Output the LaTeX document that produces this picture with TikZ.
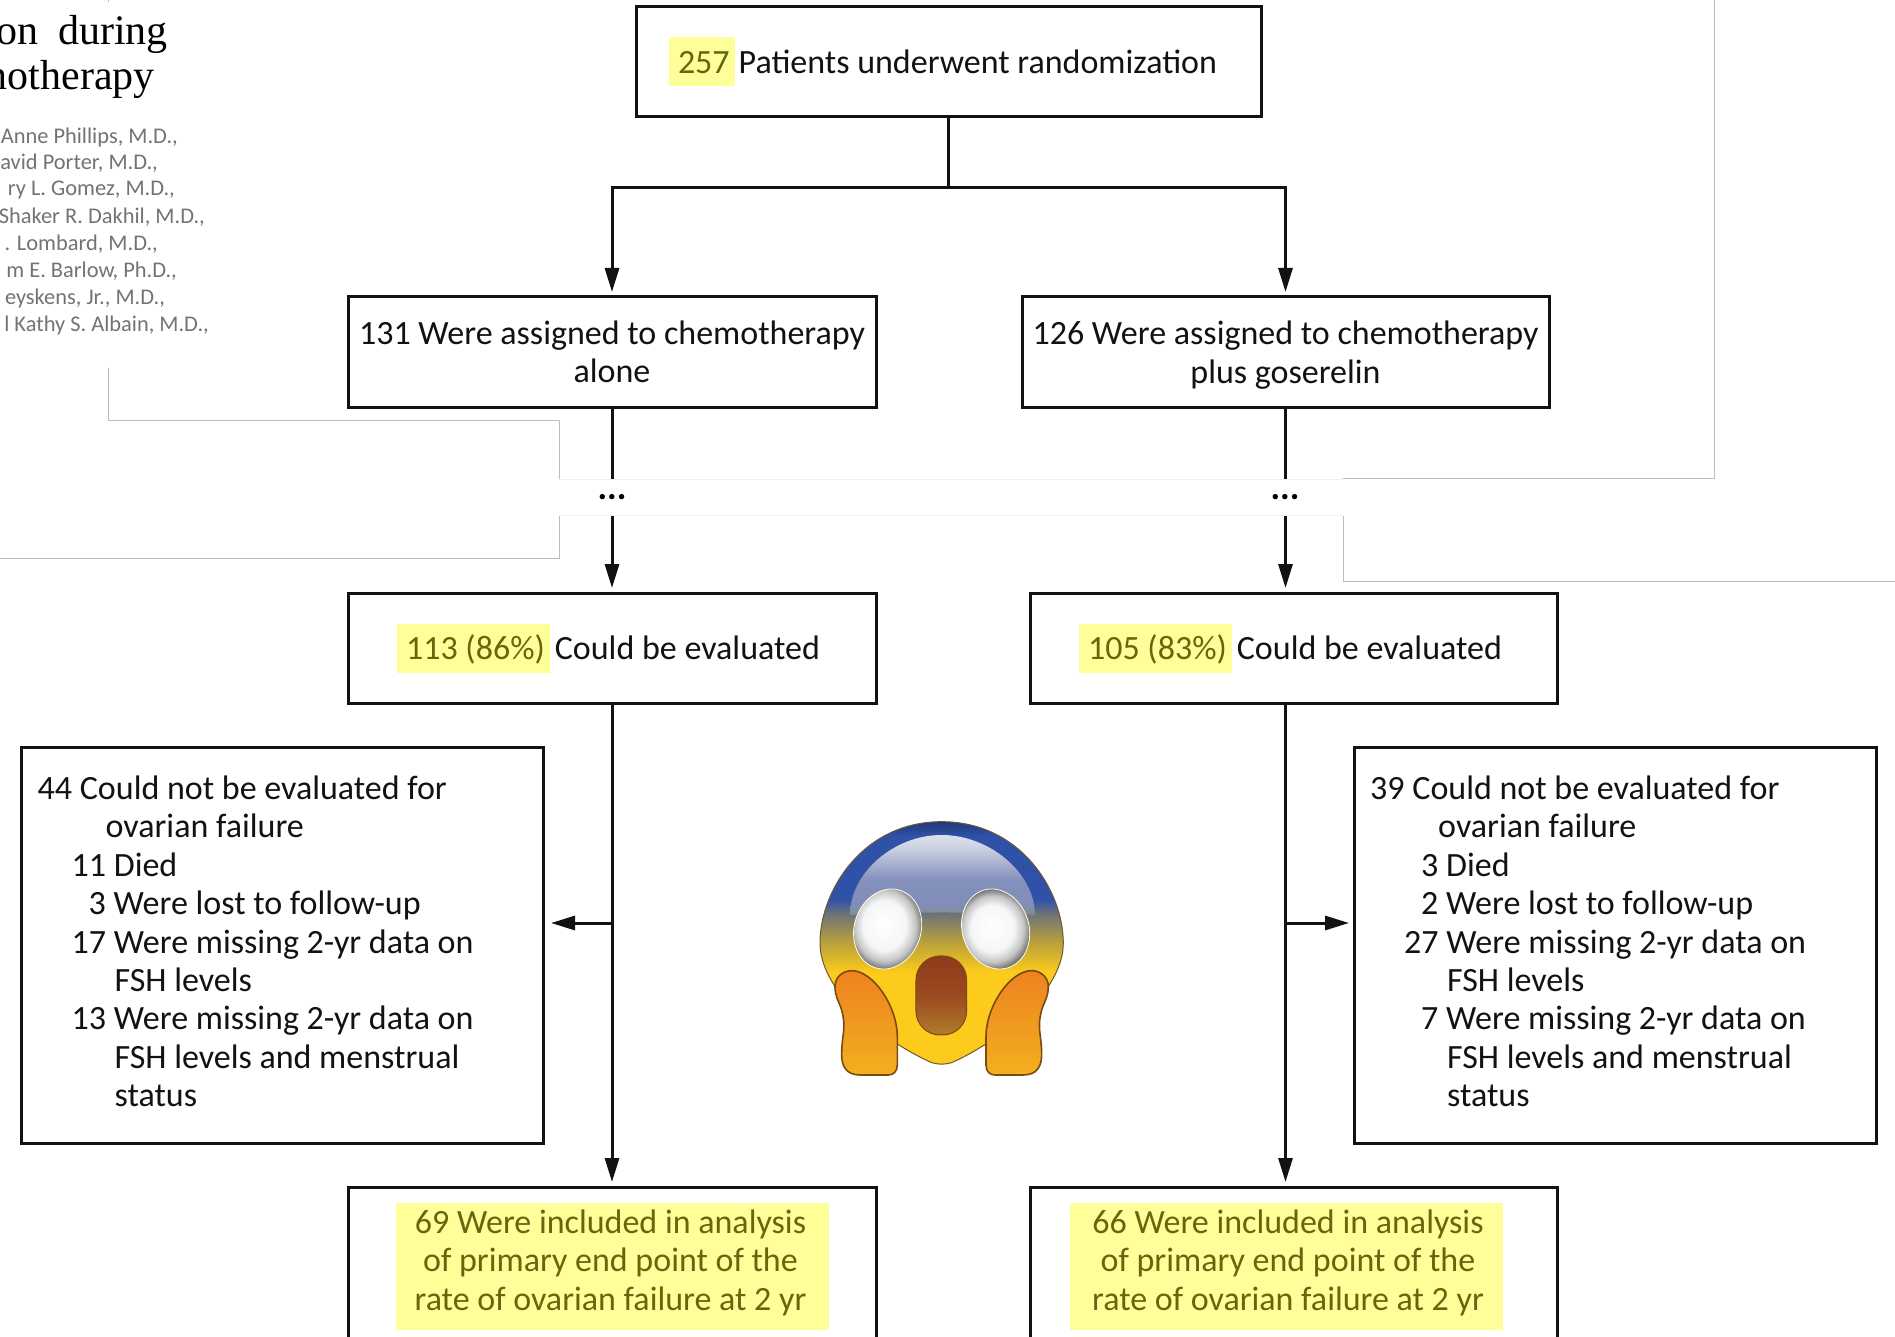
\documentclass[tikz,border=0pt]{standalone}
\usepackage{fontspec}
\usetikzlibrary{arrows.meta}
\setmainfont{Carlito}
\newfontfamily\titlefont{Liberation Serif}
\definecolor{hly}{HTML}{FFFF99}
\definecolor{hlt}{HTML}{66660F}
\definecolor{ink}{HTML}{121212}
\definecolor{pale}{HTML}{BDBDBD}
\definecolor{paler}{HTML}{EFEFEF}
\definecolor{hsA}{HTML}{FCCB1C}
\definecolor{hsB}{HTML}{B59E3E}
\definecolor{hsC}{HTML}{6E7379}
\definecolor{hsD}{HTML}{2F52A8}
\definecolor{hsE}{HTML}{1F3A7A}
\definecolor{glA}{HTML}{858C92}
\definecolor{glB}{HTML}{7F8EB8}
\definecolor{glC}{HTML}{8590BD}
\definecolor{glD}{HTML}{CFD4E4}
\definecolor{glE}{HTML}{DDE0EA}
\definecolor{eyA}{HTML}{F5F6F8}
\definecolor{eyB}{HTML}{C4C4C4}
\definecolor{eyC}{HTML}{666666}
\definecolor{handT}{HTML}{EE8220}
\definecolor{handB}{HTML}{F2B01E}
\definecolor{handL}{HTML}{7A4A10}
\definecolor{mouT}{HTML}{8F3A1C}
\definecolor{mouM}{HTML}{9A4A20}
\definecolor{mouB}{HTML}{B07C2C}
\definecolor{mouL}{HTML}{7A4A14}
\definecolor{headL}{HTML}{6B5A30}
\newcommand\hlbox[1]{{\setlength\fboxsep{0pt}\colorbox{hly}{\rule[-13pt]{0pt}{49pt}\hspace{9pt}\textcolor{hlt}{#1}\hspace{5pt}}}}
\newcommand\bodyfont{\fontsize{34pt}{38.4pt}\selectfont}
\pgfdeclareverticalshading{headsh}{100bp}{color(0bp)=(hsA);color(25bp)=(hsA);color(44bp)=(hsA);color(50.5bp)=(hsB);color(56bp)=(hsC);color(59bp)=(hsD);color(72bp)=(hsD);color(75bp)=(hsE);color(100bp)=(hsE)}
\pgfdeclareverticalshading{glosssh}{100bp}{color(0bp)=(glA);color(25bp)=(glA);color(32bp)=(glB);color(47bp)=(glC);color(68bp)=(glD);color(75bp)=(glE);color(100bp)=(glE)}
\pgfdeclareradialshading{eyesh}{\pgfpoint{-3bp}{3bp}}{color(0bp)=(white);color(14bp)=(eyA);color(20bp)=(eyB);color(25bp)=(eyC);color(50bp)=(eyC)}
\tikzset{
  x=1pt,y=-1pt,
  box/.style={draw=ink,line width=3pt,inner sep=0pt,outer sep=0pt,fill=white,align=center,text=ink,font=\bodyfont},
  conn/.style={draw=ink,line width=3pt},
  arr/.style={conn,-{Triangle[length=24pt,width=14pt]},shorten >=5pt},
  listtext/.style={inner sep=0pt,anchor=west,align=left,text=ink,font=\bodyfont},
  author/.style={inner sep=0pt,anchor=east,text=black!55,font=\fontsize{22.4pt}{26pt}\selectfont},
  titleline/.style={inner sep=0pt,anchor=east,text=black,font=\titlefont\fontsize{42pt}{46pt}\selectfont},
  bg/.style={draw=pale,line width=1pt},
  bgpale/.style={draw=paler,line width=1pt},
  markbox/.style={fill=hly,text=hlt,inner sep=0pt,align=center,minimum width=433pt,minimum height=127pt,font=\bodyfont},
  dotnode/.style={inner sep=0pt,minimum height=37pt,font=\bfseries\fontsize{36pt}{36pt}\selectfont,text=black},
}
\begin{document}
\begin{tikzpicture}
\useasboundingbox (0,0) rectangle (1895,1337);
\clip (0,0) rectangle (1895,1337);
\fill[white] (0,0) rectangle (1895,1337);
% page behind the figure
\draw[bg] (108,0) -- (108,2);
\draw[bg] (108,368) -- (108,420.5) -- (559,420.5) -- (559,479);
\draw[bgpale] (559,479) -- (1343,479);
\draw[bg] (1343,478.5) -- (1714,478.5) -- (1714,0);
\draw[bg] (0,558.5) -- (559,558.5) -- (559,516);
\draw[bgpale] (559,515.5) -- (1343,515.5);
\draw[bg] (1343,516) -- (1343,581.5) -- (1895,581.5);
% title fragment
\node[titleline] (t1) at (168,34) {on\hspace{9pt} during};
\node[titleline] (t2) at (155,79) {notherapy};
\node[author] (au1) at (178,137.5) {Anne Phillips, M.D.,};
\node[author] (au2) at (158,163.5) {avid Porter, M.D.,};
\node[author] (au3) at (175,190.5) {ry L. Gomez, M.D.,};
\node[author] (au4) at (205,217.5) {Shaker R. Dakhil, M.D.,};
\node[author] (au5) at (158,244.5) {. Lombard, M.D.,};
\node[author] (au6) at (177,271.5) {m E. Barlow, Ph.D.,};
\node[author] (au7) at (165,298.5) {eyskens, Jr., M.D.,};
\node[author] (au8) at (209,325.5) {l Kathy S. Albain, M.D.,};
% boxes
\node[box,minimum width=625pt,minimum height=110pt] (rand) at (948.5,62) {\hlbox{257}\hspace{4pt}Patients underwent randomization\hspace{11pt}};
\node[box,minimum width=528pt,minimum height=110pt] (a1) at (612,352) {131 Were assigned to chemotherapy\\alone};
\node[box,minimum width=527pt,minimum height=110pt] (a2) at (1285.5,352) {126 Were assigned to chemotherapy\\\raisebox{0pt}[\height][0pt]{plus goserelin}};
\node[box,minimum width=528pt,minimum height=110pt] (e1) at (612,648) {\hlbox{113 (86\%)}\hspace{5pt}Could be evaluated\hspace{7pt}};
\node[box,minimum width=527pt,minimum height=110pt] (e2) at (1293.5,648) {\hlbox{105 (83\%)}\hspace{5pt}Could be evaluated\hspace{6pt}};
\node[box,minimum width=522pt,minimum height=396pt] (x1) at (282,945) {};
\node[box,minimum width=522pt,minimum height=396pt] (x2) at (1615,945) {};
\node[box,minimum width=528pt,minimum height=180pt] (i1) at (612,1277) {};
\node[box,minimum width=527pt,minimum height=180pt] (i2) at (1293.5,1277) {};
\node[markbox] (m1) at (612,1266) {\hspace*{-3pt}69 Were included in analysis\\\hspace*{-3pt}of primary end point of the\\\hspace*{-3pt}rate of ovarian failure at 2 yr\rule[-12pt]{0pt}{1pt}};
\node[markbox] (m2) at (1286,1266) {\hspace*{4pt}66 Were included in analysis\\\hspace*{4pt}of primary end point of the\\\hspace*{4pt}rate of ovarian failure at 2 yr\rule[-12pt]{0pt}{1pt}};
\node[listtext] (l1) at (37.5,941.5) {44 Could not be evaluated for\\
\hspace*{68pt}ovarian failure\\
\hspace*{34pt}11 Died\\
\hspace*{51pt}3 Were lost to follow-up\\
\hspace*{34pt}17 Were missing 2-yr data on\\
\hspace*{77pt}FSH levels\\
\hspace*{34pt}13 Were missing 2-yr data on\\
\hspace*{77pt}FSH levels and menstrual\\
\hspace*{77pt}status};
\node[listtext] (l2) at (1370,941.5) {39 Could not be evaluated for\\
\hspace*{68pt}ovarian failure\\
\hspace*{51pt}3 Died\\
\hspace*{51pt}2 Were lost to follow-up\\
\hspace*{34pt}27 Were missing 2-yr data on\\
\hspace*{77pt}FSH levels\\
\hspace*{51pt}7 Were missing 2-yr data on\\
\hspace*{77pt}FSH levels and menstrual\\
\hspace*{77pt}status};
% dots
\node[dotnode] (d1) at (612,497.5) {\raisebox{-2.4pt}{...}};
\node[dotnode] (d2) at (1285,497.5) {\raisebox{-2.4pt}{...}};
% connectors
\coordinate (junction) at (948.5,187.5);
\coordinate (lb) at (612,923);
\coordinate (rb) at (1286,923);
\draw[conn] (rand.south) -- (junction);
\draw[arr] (junction) -| (a1.north);
\draw[arr] (junction) -| (a2.north);
\draw[conn] (a1.south) -- (d1.north);
\draw[conn] (a2.south) -- (a2.south |- d2.north);
\draw[arr] (d1.south) -- (e1.north);
\draw[arr] (a2.south |- d2.south) -- (a2.south |- e2.north);
\draw[arr] (e1.south) -- (i1.north);
\draw[arr] (a2.south |- e2.south) -- (a2.south |- i2.north);
\draw[arr,shorten >=8pt] (lb) -- (x1.east |- lb);
\draw[arr] (rb) -- (x2.west |- rb);
% emoji
\begin{scope}[shift={(760,780)},x=0.3333pt,y=-0.3333pt]
 \draw[draw=headL,line width=1pt,shading=headsh]
  (545,125) .. controls (310,125) and (180,330) .. (180,490)
  .. controls (180,570) and (240,650) .. (300,710)
  .. controls (360,760) and (440,815) .. (515,848)
  .. controls (535,854) and (555,854) .. (575,848)
  .. controls (650,815) and (730,760) .. (790,710)
  .. controls (850,650) and (910,570) .. (910,490)
  .. controls (910,330) and (780,125) .. (545,125) -- cycle;
 \shade[shading=glosssh]
  (270,405) .. controls (270,280) and (400,165) .. (545,165)
  .. controls (690,165) and (825,280) .. (825,405)
  .. controls (700,395) and (400,395) .. (270,405) -- cycle;
 \draw[draw=white!90!yellow,line width=0.8pt,shading=eyesh,rotate around={-18:(383,447)}] (383,447) ellipse [x radius=100,y radius=122];
 \draw[draw=white!90!yellow,line width=0.8pt,shading=eyesh,rotate around={18:(707,447)}] (707,447) ellipse [x radius=100,y radius=122];
 \draw[draw=mouL,line width=1pt,top color=mouT,bottom color=mouB,middle color=mouM,rounded corners=24pt] (468,528) rectangle (620,765);
 \draw[draw=handL,line width=1.6pt,top color=handT,bottom color=handB]
  (225,620) .. controls (225,590) and (250,572) .. (275,572)
  .. controls (340,572) and (412,680) .. (412,770)
  -- (412,855) .. controls (412,875) and (400,885) .. (385,885)
  -- (300,885) .. controls (260,885) and (245,860) .. (245,825)
  .. controls (245,760) and (260,750) .. (245,690)
  .. controls (235,660) and (225,650) .. (225,620) -- cycle;
 \draw[draw=handL,line width=1.6pt,top color=handT,bottom color=handB]
  (865,620) .. controls (865,590) and (840,572) .. (815,572)
  .. controls (750,572) and (678,680) .. (678,770)
  -- (678,855) .. controls (678,875) and (690,885) .. (705,885)
  -- (790,885) .. controls (830,885) and (845,860) .. (845,825)
  .. controls (845,760) and (830,750) .. (845,690)
  .. controls (855,660) and (865,650) .. (865,620) -- cycle;
\end{scope}
\end{tikzpicture}
\end{document}
